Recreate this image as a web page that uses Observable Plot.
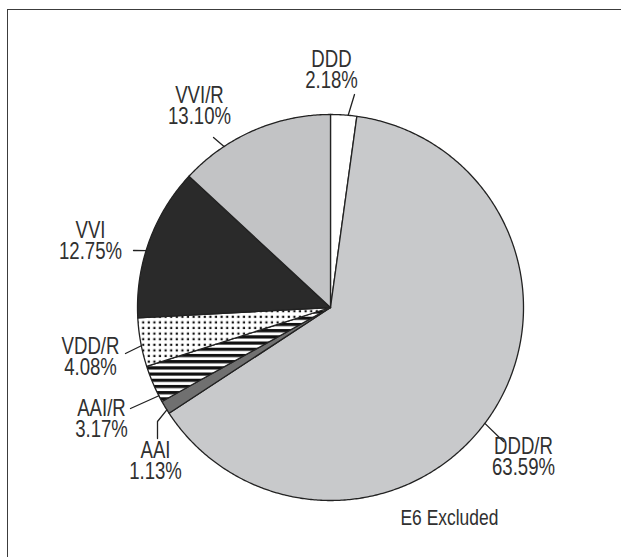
<!DOCTYPE html>
<html>
<head>
<meta charset="utf-8">
<script src="https://cdn.jsdelivr.net/npm/d3@7"></script>
<script src="https://cdn.jsdelivr.net/npm/@observablehq/plot@0.6"></script>
<style>
  html, body { margin: 0; padding: 0; background: #fff; }
  #wrap { position: relative; width: 621px; height: 557px; overflow: hidden; }
  #frame { position: absolute; left: 7px; top: 9px; width: 800px; height: 800px;
           border-top: 1.6px solid #3c3c3c; border-left: 1.6px solid #3c3c3c; box-sizing: border-box; }
</style>
</head>
<body>
<div id="wrap"><div id="frame"></div></div>
<script>
// ---- data ----
const categories = ["DDD", "DDD/R", "AAI", "AAI/R", "VDD/R", "VVI", "VVI/R"];
const percents   = [2.18, 63.59, 1.13, 3.17, 4.08, 12.75, 13.10];
const labels     = ["DDD\n2.18%", "DDD/R\n63.59%", "AAI\n1.13%", "AAI/R\n3.17%", "VDD/R\n4.08%", "VVI\n12.75%", "VVI/R\n13.10%"];
const note = "E6 Excluded";

// ---- styling / layout ----
const fills = {
  "DDD": "#ffffff",
  "DDD/R": "#c8c9cb",
  "AAI": "#707070",
  "AAI/R": "url(#stripes)",
  "VDD/R": "url(#dots)",
  "VVI": "#2a2a2a",
  "VVI/R": "#c2c3c5"
};
const W = 621, H = 557;
const cx = 330, cy = 307, R = 193;
// label anchor (block centre), leader start as fraction of slice span, leader path points
const labelLayout = {
  "DDD":   {x: 331, y: 70,  f: 0.67, leader: [[354, 94]]},
  "DDD/R": {x: 523, y: 457, f: 0.52, leader: [[503, 441]]},
  "AAI":   {x: 155, y: 461, f: 0.30, leader: [[157, 421], [157, 438]]},
  "AAI/R": {x: 101, y: 419, f: 0.17, leader: [[130, 408]]},
  "VDD/R": {x: 90,  y: 357, f: 0.43, leader: [[125, 353]]},
  "VVI":   {x: 90,  y: 241, f: 0.44, leader: [[133, 250]]},
  "VVI/R": {x: 199, y: 106, f: 0.29, leader: [[213, 137]]}
};
const noteLayout = {x: 400, y: 517};
const font = "'Liberation Sans', Arial, Helvetica, sans-serif";
const condense = 0.775;

// ---- build ----
const table = categories.map((c, i) => ({name: c, value: percents[i], label: labels[i]}));
const arcs = d3.pie().sort(null).value(d => d.value)(table);
const pt = (a, r) => [cx + r * Math.sin(a), cy - r * Math.cos(a)];

const slices = arcs.map(a => {
  const pts = [{x: cx, y: cy}];
  const n = Math.max(2, Math.ceil((a.endAngle - a.startAngle) / (Math.PI / 360)));
  for (let k = 0; k <= n; k++) {
    const ang = a.startAngle + (a.endAngle - a.startAngle) * k / n;
    const [x, y] = pt(ang, R);
    pts.push({x, y});
  }
  pts.push({x: cx, y: cy});
  return {name: a.data.name, pts};
});

const leaders = [];
arcs.forEach(a => {
  const L = labelLayout[a.data.name];
  const ang = a.startAngle + (a.endAngle - a.startAngle) * L.f;
  const [x0, y0] = pt(ang, R);
  leaders.push({name: a.data.name, x: x0, y: y0});
  L.leader.forEach(([x, y]) => leaders.push({name: a.data.name, x, y}));
});

const textData = table.map(d => ({...d, x: labelLayout[d.name].x, y: labelLayout[d.name].y}));

const defsMark = () => {
  const defs = d3.create("svg:defs");
  const dots = defs.append("pattern").attr("id", "dots").attr("patternUnits", "userSpaceOnUse")
    .attr("width", 5.6).attr("height", 5.6);
  dots.append("rect").attr("width", 5.6).attr("height", 5.6).attr("fill", "#fff");
  dots.append("rect").attr("x", 1.6).attr("y", 1.6).attr("width", 2.2).attr("height", 2.2).attr("fill", "#111");
  const st = defs.append("pattern").attr("id", "stripes").attr("patternUnits", "userSpaceOnUse")
    .attr("width", 10).attr("height", 6.2);
  st.append("rect").attr("width", 10).attr("height", 6.2).attr("fill", "#fff");
  st.append("rect").attr("y", 0).attr("width", 10).attr("height", 3.2).attr("fill", "#111");
  return defs.node();
};

const chart = Plot.plot({
  width: W, height: H,
  margin: 0,
  x: {domain: [0, W], range: [0, W], axis: null},
  y: {domain: [0, H], range: [0, H], axis: null},
  style: {background: "transparent"},
  marks: [
    defsMark,
    ...slices.map(s => Plot.line(s.pts, {
      x: "x", y: "y", fill: fills[s.name], stroke: "#222", strokeWidth: 1.3,
      strokeLinejoin: "round", curve: "linear"
    })),
    Plot.line(leaders, {x: "x", y: "y", z: "name", stroke: "#222", strokeWidth: 1.3}),
    Plot.text(textData, {x: "x", y: "y", text: "label", fontSize: 24, lineHeight: 0.9,
      fontFamily: font, fill: "#303030", textAnchor: "middle"}),
    Plot.text([note], {x: () => noteLayout.x, y: () => noteLayout.y, text: d => d, fontSize: 22.5,
      fontFamily: font, fill: "#303030", textAnchor: "start"})
  ]
});

// condense the type horizontally (Helvetica Condensed look) around each text's own anchor
d3.select(chart).selectAll("text").each(function () {
  const t = this.getAttribute("transform");
  if (t) {
    this.setAttribute("transform", t + ` scale(${condense},1)`);
  } else {
    const x = +this.getAttribute("x") || 0, y = +this.getAttribute("y") || 0;
    this.removeAttribute("x"); this.removeAttribute("y");
    this.setAttribute("transform", `translate(${x},${y}) scale(${condense},1)`);
  }
});

document.getElementById("wrap").prepend(chart);
chart.style.position = "absolute";
chart.style.left = "0";
chart.style.top = "0";
</script>
</body>
</html>
